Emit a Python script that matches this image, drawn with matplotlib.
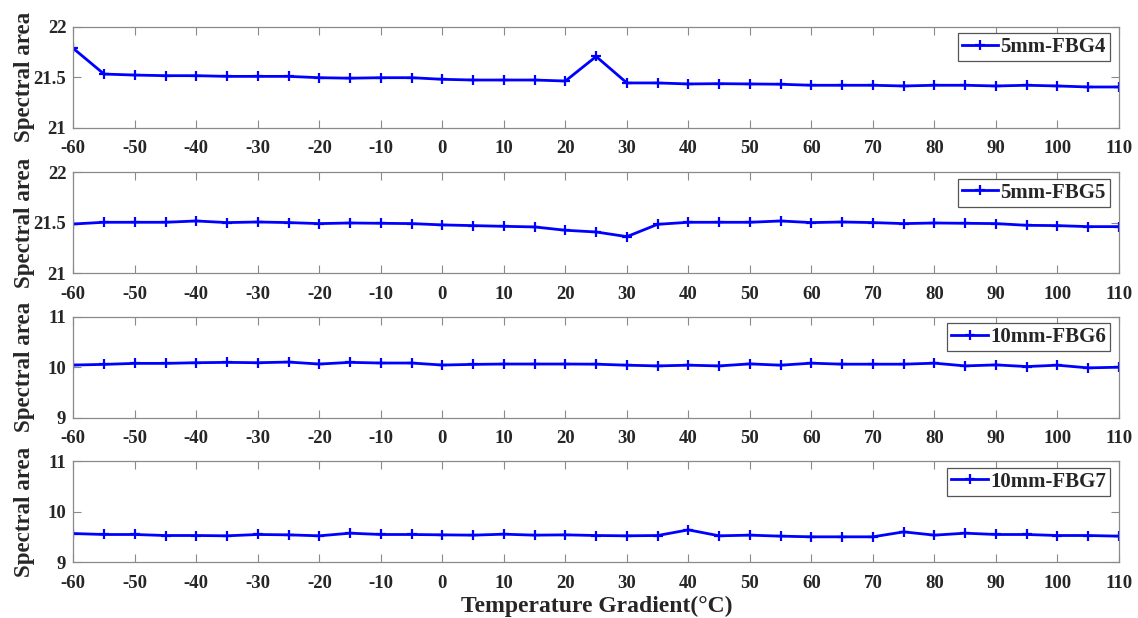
import numpy as np
import matplotlib.pyplot as plt

plt.rcParams['font.family'] = ['Liberation Serif', 'DejaVu Serif']
plt.rcParams['font.weight'] = 'bold'

temps = [-60, -55, -50, -45, -40, -35, -30, -25, -20, -15, -10, -5, 0, 5, 10, 15, 20,
         25, 30, 35, 40, 45, 50, 55, 60, 65, 70, 75, 80, 85, 90, 95, 100, 105, 110]

fbg4 = [21.785, 21.531, 21.521, 21.515, 21.515, 21.508, 21.508, 21.508, 21.495, 21.490,
        21.495, 21.495, 21.479, 21.472, 21.472, 21.472, 21.462,
        21.705, 21.443, 21.443, 21.433, 21.436, 21.433, 21.430, 21.420, 21.420, 21.420,
        21.413, 21.420, 21.420, 21.413, 21.420, 21.413, 21.403, 21.403]

fbg5 = [21.488, 21.505, 21.505, 21.505, 21.518, 21.502, 21.508, 21.502, 21.492, 21.498,
        21.495, 21.492, 21.479, 21.472, 21.465, 21.459, 21.426,
        21.409, 21.363, 21.485, 21.505, 21.505, 21.505, 21.518, 21.502, 21.508, 21.502,
        21.492, 21.498, 21.495, 21.492, 21.475, 21.472, 21.462, 21.462]

fbg6 = [10.043, 10.056, 10.076, 10.076, 10.089, 10.096, 10.089, 10.102, 10.063, 10.096,
        10.083, 10.083, 10.043, 10.056, 10.063, 10.063, 10.063,
        10.060, 10.040, 10.026, 10.040, 10.026, 10.066, 10.040, 10.080, 10.060, 10.060,
        10.060, 10.080, 10.026, 10.046, 10.013, 10.040, 9.987, 10.000]

fbg7 = [9.570, 9.551, 9.551, 9.531, 9.531, 9.525, 9.551, 9.544, 9.525, 9.577,
        9.551, 9.551, 9.544, 9.538, 9.557, 9.538, 9.544,
        9.531, 9.525, 9.531, 9.643, 9.525, 9.538, 9.518, 9.505, 9.505, 9.505,
        9.603, 9.538, 9.577, 9.551, 9.551, 9.531, 9.531, 9.518]

series = [fbg4, fbg5, fbg6, fbg7]
labels = ['5mm-FBG4', '5mm-FBG5', '10mm-FBG6', '10mm-FBG7']
ylims = [(21, 22), (21, 22), (9, 11), (9, 11)]
yticks = [[21, 21.5, 22], [21, 21.5, 22], [9, 10, 11], [9, 10, 11]]
ytick_labels = [['21', '21.5', '22'], ['21', '21.5', '22'], ['9', '10', '11'], ['9', '10', '11']]

xticks = list(range(-60, 111, 10))

bottoms = [0.7934, 0.5578, 0.3241, 0.0901]
frame_col = '#8a8a8a'
text_col = '#262626'

fig = plt.figure(figsize=(11.38, 6.18), dpi=100)

for i in range(4):
    ax = fig.add_axes([0.0644, bottoms[i], 0.9189, 0.1634])
    ax.plot(temps, series[i], color='#0000ff', lw=2.0, marker='+',
            markersize=7, markeredgewidth=1.6, label=labels[i])
    ax.set_xlim(-60, 110)
    ax.set_ylim(*ylims[i])
    ax.set_xticks(xticks)
    ax.set_xticklabels([str(t) for t in xticks], fontsize=13.5, fontweight='bold', color=text_col)
    ax.set_yticks(yticks[i])
    ax.set_yticklabels(ytick_labels[i], fontsize=13.5, fontweight='bold', color=text_col)
    ax.tick_params(direction='in', length=6, width=0.8, color=frame_col,
                   top=True, right=True)
    ax.tick_params(axis='x', pad=9)
    ax.tick_params(axis='y', pad=5)
    for sp in ax.spines.values():
        sp.set_color(frame_col)
        sp.set_linewidth(0.9)
    ax.set_ylabel('Spectral area', fontsize=16.5, fontweight='bold', color=text_col)
    ax.yaxis.set_label_coords(-0.037, 0.5)
    leg = ax.legend(loc='upper right', fontsize=15, handlelength=1.75,
                    handletextpad=0.1, borderpad=0.2, borderaxespad=0, fancybox=False,
                    framealpha=1, bbox_to_anchor=(0.9914, 0.938))
    leg.get_frame().set_edgecolor('#555555')
    leg.get_frame().set_linewidth(0.9)
    for t in leg.get_texts():
        t.set_color(text_col)

fig.text(0.524, 1 - 606 / 618, 'Temperature Gradient(°C)', fontsize=17, fontweight='bold',
         color=text_col, ha='center', va='center')

plt.savefig('out.png', dpi=100)
